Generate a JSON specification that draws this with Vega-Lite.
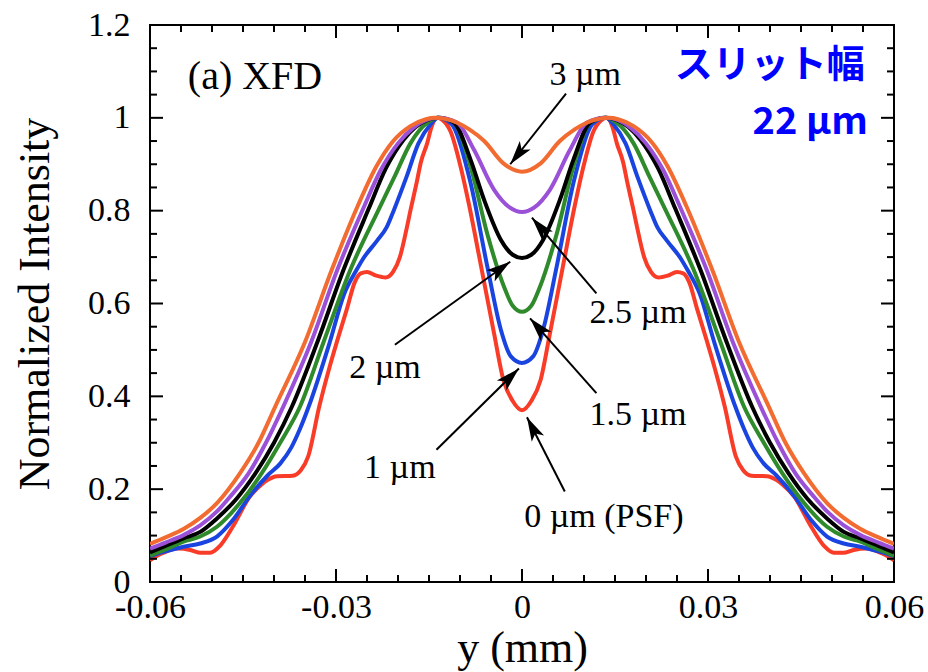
{
  "$schema": "https://vega.github.io/schema/vega-lite/v6.json",
  "width": 744,
  "height": 557,
  "autosize": {"type": "none"},
  "padding": {"left": 150, "top": 25, "right": 34, "bottom": 90},
  "background": "white",
  "config": {
    "view": {"stroke": "black", "strokeWidth": 2},
    "axis": {"grid": false, "domain": false, "ticks": false, "labelFont": "Liberation Serif", "titleFont": "Liberation Serif", "labelColor": "black", "titleColor": "black", "titleFontWeight": "normal", "labelFlush": false, "labelOverlap": false}
  },
  "datasets": {
    "curves": [
      {"s":"0","x":0,"v":0.37},{"s":"0","x":0.0015,"v":0.39},{"s":"0","x":0.003,"v":0.435},{"s":"0","x":0.0045,"v":0.535},{"s":"0","x":0.0066,"v":0.68},{"s":"0","x":0.0085,"v":0.81},{"s":"0","x":0.01,"v":0.9},{"s":"0","x":0.0115,"v":0.97},{"s":"0","x":0.0128,"v":0.995},{"s":"0","x":0.0137,"v":1},{"s":"0","x":0.0146,"v":0.98},{"s":"0","x":0.0153,"v":0.945},{"s":"0","x":0.0163,"v":0.905},{"s":"0","x":0.017,"v":0.86},{"s":"0","x":0.018,"v":0.8},{"s":"0","x":0.0186,"v":0.762},{"s":"0","x":0.0197,"v":0.7},{"s":"0","x":0.0208,"v":0.668},{"s":"0","x":0.022,"v":0.656},{"s":"0","x":0.0235,"v":0.66},{"s":"0","x":0.025,"v":0.668},{"s":"0","x":0.026,"v":0.665},{"s":"0","x":0.027,"v":0.645},{"s":"0","x":0.0282,"v":0.59},{"s":"0","x":0.0298,"v":0.52},{"s":"0","x":0.031,"v":0.465},{"s":"0","x":0.0327,"v":0.378},{"s":"0","x":0.0345,"v":0.27},{"s":"0","x":0.0357,"v":0.24},{"s":"0","x":0.037,"v":0.229},{"s":"0","x":0.0395,"v":0.228},{"s":"0","x":0.041,"v":0.22},{"s":"0","x":0.042,"v":0.21},{"s":"0","x":0.0439,"v":0.184},{"s":"0","x":0.0466,"v":0.12},{"s":"0","x":0.0487,"v":0.078},{"s":"0","x":0.0503,"v":0.063},{"s":"0","x":0.0518,"v":0.063},{"s":"0","x":0.0535,"v":0.069},{"s":"0","x":0.0555,"v":0.072},{"s":"0","x":0.058,"v":0.062},{"s":"0","x":0.06,"v":0.047},
      {"s":"0","x":-0.0015,"v":0.39},{"s":"0","x":-0.003,"v":0.435},{"s":"0","x":-0.0045,"v":0.535},{"s":"0","x":-0.0066,"v":0.68},{"s":"0","x":-0.0085,"v":0.81},{"s":"0","x":-0.01,"v":0.9},{"s":"0","x":-0.0115,"v":0.97},{"s":"0","x":-0.0128,"v":0.995},{"s":"0","x":-0.0137,"v":1},{"s":"0","x":-0.0146,"v":0.98},{"s":"0","x":-0.0153,"v":0.945},{"s":"0","x":-0.0163,"v":0.905},{"s":"0","x":-0.017,"v":0.86},{"s":"0","x":-0.018,"v":0.8},{"s":"0","x":-0.0186,"v":0.762},{"s":"0","x":-0.0197,"v":0.7},{"s":"0","x":-0.0208,"v":0.668},{"s":"0","x":-0.022,"v":0.656},{"s":"0","x":-0.0235,"v":0.66},{"s":"0","x":-0.025,"v":0.668},{"s":"0","x":-0.026,"v":0.665},{"s":"0","x":-0.027,"v":0.645},{"s":"0","x":-0.0282,"v":0.59},{"s":"0","x":-0.0298,"v":0.52},{"s":"0","x":-0.031,"v":0.465},{"s":"0","x":-0.0327,"v":0.378},{"s":"0","x":-0.0345,"v":0.27},{"s":"0","x":-0.0357,"v":0.24},{"s":"0","x":-0.037,"v":0.229},{"s":"0","x":-0.0395,"v":0.228},{"s":"0","x":-0.041,"v":0.22},{"s":"0","x":-0.042,"v":0.21},{"s":"0","x":-0.0439,"v":0.184},{"s":"0","x":-0.0466,"v":0.12},{"s":"0","x":-0.0487,"v":0.078},{"s":"0","x":-0.0503,"v":0.063},{"s":"0","x":-0.0518,"v":0.063},{"s":"0","x":-0.0535,"v":0.069},{"s":"0","x":-0.0555,"v":0.072},{"s":"0","x":-0.058,"v":0.062},{"s":"0","x":-0.06,"v":0.047},

      {"s":"1","x":0,"v":0.472},{"s":"1","x":0.0018,"v":0.486},{"s":"1","x":0.0034,"v":0.543},{"s":"1","x":0.0056,"v":0.68},{"s":"1","x":0.0083,"v":0.86},{"s":"1","x":0.011,"v":0.98},{"s":"1","x":0.0125,"v":0.997},{"s":"1","x":0.0135,"v":1},{"s":"1","x":0.0148,"v":0.985},{"s":"1","x":0.0167,"v":0.945},{"s":"1","x":0.0187,"v":0.87},{"s":"1","x":0.0207,"v":0.8},{"s":"1","x":0.0218,"v":0.765},{"s":"1","x":0.0234,"v":0.735},{"s":"1","x":0.0256,"v":0.697},{"s":"1","x":0.0267,"v":0.672},{"s":"1","x":0.0287,"v":0.62},{"s":"1","x":0.031,"v":0.517},{"s":"1","x":0.0344,"v":0.378},{"s":"1","x":0.0358,"v":0.33},{"s":"1","x":0.0372,"v":0.29},{"s":"1","x":0.039,"v":0.255},{"s":"1","x":0.041,"v":0.23},{"s":"1","x":0.0439,"v":0.185},{"s":"1","x":0.0466,"v":0.134},{"s":"1","x":0.0492,"v":0.098},{"s":"1","x":0.0519,"v":0.083},{"s":"1","x":0.0546,"v":0.076},{"s":"1","x":0.0575,"v":0.066},{"s":"1","x":0.06,"v":0.056},
      {"s":"1","x":-0.0018,"v":0.486},{"s":"1","x":-0.0034,"v":0.543},{"s":"1","x":-0.0056,"v":0.68},{"s":"1","x":-0.0083,"v":0.86},{"s":"1","x":-0.011,"v":0.98},{"s":"1","x":-0.0125,"v":0.997},{"s":"1","x":-0.0135,"v":1},{"s":"1","x":-0.0148,"v":0.985},{"s":"1","x":-0.0167,"v":0.945},{"s":"1","x":-0.0187,"v":0.87},{"s":"1","x":-0.0207,"v":0.8},{"s":"1","x":-0.0218,"v":0.765},{"s":"1","x":-0.0234,"v":0.735},{"s":"1","x":-0.0256,"v":0.697},{"s":"1","x":-0.0267,"v":0.672},{"s":"1","x":-0.0287,"v":0.62},{"s":"1","x":-0.031,"v":0.517},{"s":"1","x":-0.0344,"v":0.378},{"s":"1","x":-0.0358,"v":0.33},{"s":"1","x":-0.0372,"v":0.29},{"s":"1","x":-0.039,"v":0.255},{"s":"1","x":-0.041,"v":0.23},{"s":"1","x":-0.0439,"v":0.185},{"s":"1","x":-0.0466,"v":0.134},{"s":"1","x":-0.0492,"v":0.098},{"s":"1","x":-0.0519,"v":0.083},{"s":"1","x":-0.0546,"v":0.076},{"s":"1","x":-0.0575,"v":0.066},{"s":"1","x":-0.06,"v":0.056},

      {"s":"1.5","x":0,"v":0.582},{"s":"1.5","x":0.0015,"v":0.595},{"s":"1.5","x":0.0029,"v":0.636},{"s":"1.5","x":0.0056,"v":0.75},{"s":"1.5","x":0.0083,"v":0.895},{"s":"1.5","x":0.011,"v":0.99},{"s":"1.5","x":0.0135,"v":1},{"s":"1.5","x":0.0152,"v":0.99},{"s":"1.5","x":0.018,"v":0.945},{"s":"1.5","x":0.0205,"v":0.875},{"s":"1.5","x":0.0232,"v":0.8},{"s":"1.5","x":0.0277,"v":0.672},{"s":"1.5","x":0.032,"v":0.517},{"s":"1.5","x":0.0358,"v":0.378},{"s":"1.5","x":0.039,"v":0.3},{"s":"1.5","x":0.042,"v":0.234},{"s":"1.5","x":0.0455,"v":0.17},{"s":"1.5","x":0.0492,"v":0.119},{"s":"1.5","x":0.0519,"v":0.098},{"s":"1.5","x":0.0546,"v":0.087},{"s":"1.5","x":0.0575,"v":0.07},{"s":"1.5","x":0.06,"v":0.057},
      {"s":"1.5","x":-0.0015,"v":0.595},{"s":"1.5","x":-0.0029,"v":0.636},{"s":"1.5","x":-0.0056,"v":0.75},{"s":"1.5","x":-0.0083,"v":0.895},{"s":"1.5","x":-0.011,"v":0.99},{"s":"1.5","x":-0.0135,"v":1},{"s":"1.5","x":-0.0152,"v":0.99},{"s":"1.5","x":-0.018,"v":0.945},{"s":"1.5","x":-0.0205,"v":0.875},{"s":"1.5","x":-0.0232,"v":0.8},{"s":"1.5","x":-0.0277,"v":0.672},{"s":"1.5","x":-0.032,"v":0.517},{"s":"1.5","x":-0.0358,"v":0.378},{"s":"1.5","x":-0.039,"v":0.3},{"s":"1.5","x":-0.042,"v":0.234},{"s":"1.5","x":-0.0455,"v":0.17},{"s":"1.5","x":-0.0492,"v":0.119},{"s":"1.5","x":-0.0519,"v":0.098},{"s":"1.5","x":-0.0546,"v":0.087},{"s":"1.5","x":-0.0575,"v":0.07},{"s":"1.5","x":-0.06,"v":0.057},

      {"s":"2","x":0,"v":0.698},{"s":"2","x":0.0015,"v":0.705},{"s":"2","x":0.0034,"v":0.737},{"s":"2","x":0.0061,"v":0.823},{"s":"2","x":0.0083,"v":0.91},{"s":"2","x":0.011,"v":0.99},{"s":"2","x":0.0135,"v":1},{"s":"2","x":0.0155,"v":0.994},{"s":"2","x":0.0172,"v":0.98},{"s":"2","x":0.0191,"v":0.953},{"s":"2","x":0.022,"v":0.89},{"s":"2","x":0.0247,"v":0.805},{"s":"2","x":0.0288,"v":0.672},{"s":"2","x":0.033,"v":0.517},{"s":"2","x":0.0371,"v":0.378},{"s":"2","x":0.04,"v":0.3},{"s":"2","x":0.043,"v":0.234},{"s":"2","x":0.046,"v":0.18},{"s":"2","x":0.0492,"v":0.137},{"s":"2","x":0.0519,"v":0.108},{"s":"2","x":0.0546,"v":0.094},{"s":"2","x":0.0575,"v":0.078},{"s":"2","x":0.06,"v":0.064},
      {"s":"2","x":-0.0015,"v":0.705},{"s":"2","x":-0.0034,"v":0.737},{"s":"2","x":-0.0061,"v":0.823},{"s":"2","x":-0.0083,"v":0.91},{"s":"2","x":-0.011,"v":0.99},{"s":"2","x":-0.0135,"v":1},{"s":"2","x":-0.0155,"v":0.994},{"s":"2","x":-0.0172,"v":0.98},{"s":"2","x":-0.0191,"v":0.953},{"s":"2","x":-0.022,"v":0.89},{"s":"2","x":-0.0247,"v":0.805},{"s":"2","x":-0.0288,"v":0.672},{"s":"2","x":-0.033,"v":0.517},{"s":"2","x":-0.0371,"v":0.378},{"s":"2","x":-0.04,"v":0.3},{"s":"2","x":-0.043,"v":0.234},{"s":"2","x":-0.046,"v":0.18},{"s":"2","x":-0.0492,"v":0.137},{"s":"2","x":-0.0519,"v":0.108},{"s":"2","x":-0.0546,"v":0.094},{"s":"2","x":-0.0575,"v":0.078},{"s":"2","x":-0.06,"v":0.064},

      {"s":"2.5","x":0,"v":0.797},{"s":"2.5","x":0.002,"v":0.807},{"s":"2.5","x":0.0045,"v":0.845},{"s":"2.5","x":0.0077,"v":0.93},{"s":"2.5","x":0.0105,"v":0.99},{"s":"2.5","x":0.0135,"v":1},{"s":"2.5","x":0.0155,"v":0.995},{"s":"2.5","x":0.0175,"v":0.979},{"s":"2.5","x":0.02,"v":0.945},{"s":"2.5","x":0.0228,"v":0.887},{"s":"2.5","x":0.0255,"v":0.808},{"s":"2.5","x":0.0298,"v":0.672},{"s":"2.5","x":0.034,"v":0.517},{"s":"2.5","x":0.0385,"v":0.378},{"s":"2.5","x":0.0413,"v":0.3},{"s":"2.5","x":0.0441,"v":0.234},{"s":"2.5","x":0.047,"v":0.185},{"s":"2.5","x":0.0492,"v":0.152},{"s":"2.5","x":0.0519,"v":0.122},{"s":"2.5","x":0.0546,"v":0.101},{"s":"2.5","x":0.0575,"v":0.085},{"s":"2.5","x":0.06,"v":0.072},
      {"s":"2.5","x":-0.002,"v":0.807},{"s":"2.5","x":-0.0045,"v":0.845},{"s":"2.5","x":-0.0077,"v":0.93},{"s":"2.5","x":-0.0105,"v":0.99},{"s":"2.5","x":-0.0135,"v":1},{"s":"2.5","x":-0.0155,"v":0.995},{"s":"2.5","x":-0.0175,"v":0.979},{"s":"2.5","x":-0.02,"v":0.945},{"s":"2.5","x":-0.0228,"v":0.887},{"s":"2.5","x":-0.0255,"v":0.808},{"s":"2.5","x":-0.0298,"v":0.672},{"s":"2.5","x":-0.034,"v":0.517},{"s":"2.5","x":-0.0385,"v":0.378},{"s":"2.5","x":-0.0413,"v":0.3},{"s":"2.5","x":-0.0441,"v":0.234},{"s":"2.5","x":-0.047,"v":0.185},{"s":"2.5","x":-0.0492,"v":0.152},{"s":"2.5","x":-0.0519,"v":0.122},{"s":"2.5","x":-0.0546,"v":0.101},{"s":"2.5","x":-0.0575,"v":0.085},{"s":"2.5","x":-0.06,"v":0.072},

      {"s":"3","x":0,"v":0.884},{"s":"3","x":0.003,"v":0.902},{"s":"3","x":0.0061,"v":0.95},{"s":"3","x":0.0085,"v":0.975},{"s":"3","x":0.0105,"v":0.99},{"s":"3","x":0.0125,"v":0.998},{"s":"3","x":0.014,"v":1},{"s":"3","x":0.0155,"v":0.997},{"s":"3","x":0.018,"v":0.982},{"s":"3","x":0.0209,"v":0.948},{"s":"3","x":0.0235,"v":0.895},{"s":"3","x":0.0265,"v":0.81},{"s":"3","x":0.0307,"v":0.672},{"s":"3","x":0.035,"v":0.517},{"s":"3","x":0.0398,"v":0.378},{"s":"3","x":0.0425,"v":0.3},{"s":"3","x":0.0455,"v":0.234},{"s":"3","x":0.0492,"v":0.17},{"s":"3","x":0.0519,"v":0.138},{"s":"3","x":0.0546,"v":0.114},{"s":"3","x":0.0575,"v":0.096},{"s":"3","x":0.06,"v":0.082},
      {"s":"3","x":-0.003,"v":0.902},{"s":"3","x":-0.0061,"v":0.95},{"s":"3","x":-0.0085,"v":0.975},{"s":"3","x":-0.0105,"v":0.99},{"s":"3","x":-0.0125,"v":0.998},{"s":"3","x":-0.014,"v":1},{"s":"3","x":-0.0155,"v":0.997},{"s":"3","x":-0.018,"v":0.982},{"s":"3","x":-0.0209,"v":0.948},{"s":"3","x":-0.0235,"v":0.895},{"s":"3","x":-0.0265,"v":0.81},{"s":"3","x":-0.0307,"v":0.672},{"s":"3","x":-0.035,"v":0.517},{"s":"3","x":-0.0398,"v":0.378},{"s":"3","x":-0.0425,"v":0.3},{"s":"3","x":-0.0455,"v":0.234},{"s":"3","x":-0.0492,"v":0.17},{"s":"3","x":-0.0519,"v":0.138},{"s":"3","x":-0.0546,"v":0.114},{"s":"3","x":-0.0575,"v":0.096},{"s":"3","x":-0.06,"v":0.082}
    ],
    "frameticks": [
      {"kx":-0.06,"ky":0,"side":"b","k":"M"},{"kx":-0.055,"ky":0,"side":"b","k":"m"},{"kx":-0.05,"ky":0,"side":"b","k":"m"},{"kx":-0.045,"ky":0,"side":"b","k":"m"},{"kx":-0.04,"ky":0,"side":"b","k":"m"},{"kx":-0.035,"ky":0,"side":"b","k":"m"},{"kx":-0.03,"ky":0,"side":"b","k":"M"},{"kx":-0.025,"ky":0,"side":"b","k":"m"},{"kx":-0.02,"ky":0,"side":"b","k":"m"},{"kx":-0.015,"ky":0,"side":"b","k":"m"},{"kx":-0.01,"ky":0,"side":"b","k":"m"},{"kx":-0.005,"ky":0,"side":"b","k":"m"},{"kx":0,"ky":0,"side":"b","k":"M"},{"kx":0.005,"ky":0,"side":"b","k":"m"},{"kx":0.01,"ky":0,"side":"b","k":"m"},{"kx":0.015,"ky":0,"side":"b","k":"m"},{"kx":0.02,"ky":0,"side":"b","k":"m"},{"kx":0.025,"ky":0,"side":"b","k":"m"},{"kx":0.03,"ky":0,"side":"b","k":"M"},{"kx":0.035,"ky":0,"side":"b","k":"m"},{"kx":0.04,"ky":0,"side":"b","k":"m"},{"kx":0.045,"ky":0,"side":"b","k":"m"},{"kx":0.05,"ky":0,"side":"b","k":"m"},{"kx":0.055,"ky":0,"side":"b","k":"m"},{"kx":0.06,"ky":0,"side":"b","k":"M"},
      {"kx":-0.06,"ky":1.2,"side":"t","k":"M"},{"kx":-0.055,"ky":1.2,"side":"t","k":"m"},{"kx":-0.05,"ky":1.2,"side":"t","k":"m"},{"kx":-0.045,"ky":1.2,"side":"t","k":"m"},{"kx":-0.04,"ky":1.2,"side":"t","k":"m"},{"kx":-0.035,"ky":1.2,"side":"t","k":"m"},{"kx":-0.03,"ky":1.2,"side":"t","k":"M"},{"kx":-0.025,"ky":1.2,"side":"t","k":"m"},{"kx":-0.02,"ky":1.2,"side":"t","k":"m"},{"kx":-0.015,"ky":1.2,"side":"t","k":"m"},{"kx":-0.01,"ky":1.2,"side":"t","k":"m"},{"kx":-0.005,"ky":1.2,"side":"t","k":"m"},{"kx":0,"ky":1.2,"side":"t","k":"M"},{"kx":0.005,"ky":1.2,"side":"t","k":"m"},{"kx":0.01,"ky":1.2,"side":"t","k":"m"},{"kx":0.015,"ky":1.2,"side":"t","k":"m"},{"kx":0.02,"ky":1.2,"side":"t","k":"m"},{"kx":0.025,"ky":1.2,"side":"t","k":"m"},{"kx":0.03,"ky":1.2,"side":"t","k":"M"},{"kx":0.035,"ky":1.2,"side":"t","k":"m"},{"kx":0.04,"ky":1.2,"side":"t","k":"m"},{"kx":0.045,"ky":1.2,"side":"t","k":"m"},{"kx":0.05,"ky":1.2,"side":"t","k":"m"},{"kx":0.055,"ky":1.2,"side":"t","k":"m"},{"kx":0.06,"ky":1.2,"side":"t","k":"M"},
      {"kx":-0.06,"ky":0,"side":"l","k":"M"},{"kx":-0.06,"ky":0.05,"side":"l","k":"m"},{"kx":-0.06,"ky":0.1,"side":"l","k":"m"},{"kx":-0.06,"ky":0.15,"side":"l","k":"m"},{"kx":-0.06,"ky":0.2,"side":"l","k":"M"},{"kx":-0.06,"ky":0.25,"side":"l","k":"m"},{"kx":-0.06,"ky":0.3,"side":"l","k":"m"},{"kx":-0.06,"ky":0.35,"side":"l","k":"m"},{"kx":-0.06,"ky":0.4,"side":"l","k":"M"},{"kx":-0.06,"ky":0.45,"side":"l","k":"m"},{"kx":-0.06,"ky":0.5,"side":"l","k":"m"},{"kx":-0.06,"ky":0.55,"side":"l","k":"m"},{"kx":-0.06,"ky":0.6,"side":"l","k":"M"},{"kx":-0.06,"ky":0.65,"side":"l","k":"m"},{"kx":-0.06,"ky":0.7,"side":"l","k":"m"},{"kx":-0.06,"ky":0.75,"side":"l","k":"m"},{"kx":-0.06,"ky":0.8,"side":"l","k":"M"},{"kx":-0.06,"ky":0.85,"side":"l","k":"m"},{"kx":-0.06,"ky":0.9,"side":"l","k":"m"},{"kx":-0.06,"ky":0.95,"side":"l","k":"m"},{"kx":-0.06,"ky":1,"side":"l","k":"M"},{"kx":-0.06,"ky":1.05,"side":"l","k":"m"},{"kx":-0.06,"ky":1.1,"side":"l","k":"m"},{"kx":-0.06,"ky":1.15,"side":"l","k":"m"},{"kx":-0.06,"ky":1.2,"side":"l","k":"M"},
      {"kx":0.06,"ky":0,"side":"r","k":"M"},{"kx":0.06,"ky":0.05,"side":"r","k":"m"},{"kx":0.06,"ky":0.1,"side":"r","k":"m"},{"kx":0.06,"ky":0.15,"side":"r","k":"m"},{"kx":0.06,"ky":0.2,"side":"r","k":"M"},{"kx":0.06,"ky":0.25,"side":"r","k":"m"},{"kx":0.06,"ky":0.3,"side":"r","k":"m"},{"kx":0.06,"ky":0.35,"side":"r","k":"m"},{"kx":0.06,"ky":0.4,"side":"r","k":"M"},{"kx":0.06,"ky":0.45,"side":"r","k":"m"},{"kx":0.06,"ky":0.5,"side":"r","k":"m"},{"kx":0.06,"ky":0.55,"side":"r","k":"m"},{"kx":0.06,"ky":0.6,"side":"r","k":"M"},{"kx":0.06,"ky":0.65,"side":"r","k":"m"},{"kx":0.06,"ky":0.7,"side":"r","k":"m"},{"kx":0.06,"ky":0.75,"side":"r","k":"m"},{"kx":0.06,"ky":0.8,"side":"r","k":"M"},{"kx":0.06,"ky":0.85,"side":"r","k":"m"},{"kx":0.06,"ky":0.9,"side":"r","k":"m"},{"kx":0.06,"ky":0.95,"side":"r","k":"m"},{"kx":0.06,"ky":1,"side":"r","k":"M"},{"kx":0.06,"ky":1.05,"side":"r","k":"m"},{"kx":0.06,"ky":1.1,"side":"r","k":"m"},{"kx":0.06,"ky":1.15,"side":"r","k":"m"},{"kx":0.06,"ky":1.2,"side":"r","k":"M"}
    ],
    "arrows": [
      {"tx":0.0071,"tv":1.052,"hx":-0.0019,"hv":0.9},
      {"tx":0.012,"tv":0.622,"hx":0.0016,"hv":0.785},
      {"tx":-0.0205,"tv":0.511,"hx":-0.0019,"hv":0.69},
      {"tx":0.012,"tv":0.407,"hx":0.0013,"hv":0.568},
      {"tx":-0.0138,"tv":0.285,"hx":-0.0005,"hv":0.46},
      {"tx":0.0069,"tv":0.195,"hx":0.0008,"hv":0.355}
    ],
    "labels": [
      {"lx":0.0102,"lv":1.093,"t":"3 µm"},
      {"lx":0.0187,"lv":0.58,"t":"2.5 µm"},
      {"lx":-0.0221,"lv":0.461,"t":"2 µm"},
      {"lx":0.0187,"lv":0.36,"t":"1.5 µm"},
      {"lx":-0.0197,"lv":0.246,"t":"1 µm"},
      {"lx":0.0132,"lv":0.14,"t":"0 µm (PSF)"}
    ],
    "panel": [{"px":-0.0539,"pv":1.088,"t":"(a) XFD"}],
    "slit": [
      {"jx":0.0553,"jv":1.112,"t":"スリット幅"},
      {"jx":0.0558,"jv":0.989,"t":"22 μm"}
    ]
  },
  "layer": [
    {
      "data": {"name": "curves"},
      "mark": {"type": "line", "interpolate": "monotone", "strokeWidth": 4, "clip": true},
      "encoding": {
        "x": {"field": "x", "type": "quantitative", "scale": {"domain": [-0.06, 0.06], "nice": false, "zero": false},
              "axis": {"orient": "bottom", "values": [-0.06, -0.03, 0, 0.03, 0.06], "labelExpr": "datum.value == 0 ? '0' : (datum.value < 0 ? '-' : '') + format(abs(datum.value), '.2f')", "labelFontSize": 34, "labelPadding": 8, "title": "y (mm)", "titleFontSize": 44, "titlePadding": 2}},
        "y": {"field": "v", "type": "quantitative", "scale": {"domain": [0, 1.2], "nice": false},
              "axis": {"orient": "left", "values": [0, 0.2, 0.4, 0.6, 0.8, 1, 1.2], "format": "~g", "labelFontSize": 34, "labelPadding": 20, "title": "Normalized Intensity", "titleFontSize": 44, "titlePadding": 30}},
        "color": {"field": "s", "type": "nominal", "scale": {"domain": ["0", "1", "1.5", "2", "2.5", "3"], "range": ["#f83c28", "#1a44e0", "#2f8a2b", "#000000", "#9b50d8", "#f26b30"]}, "legend": null}
      }
    },
    {
      "data": {"name": "frameticks"},
      "transform": [
        {"calculate": "datum.k == 'M' ? 13 : 7", "as": "len"},
        {"calculate": "datum.side == 'l' ? datum.kx + datum.len / 6200 : (datum.side == 'r' ? datum.kx - datum.len / 6200 : datum.kx)", "as": "kx2"},
        {"calculate": "datum.side == 'b' ? datum.ky + datum.len / 464.2 : (datum.side == 't' ? datum.ky - datum.len / 464.2 : datum.ky)", "as": "ky2"}
      ],
      "mark": {"type": "rule", "color": "black", "strokeWidth": 2},
      "encoding": {
        "x": {"field": "kx", "type": "quantitative"},
        "y": {"field": "ky", "type": "quantitative"},
        "x2": {"field": "kx2"},
        "y2": {"field": "ky2"}
      }
    },
    {
      "data": {"name": "arrows"},
      "mark": {"type": "rule", "color": "black", "strokeWidth": 2},
      "encoding": {
        "x": {"field": "tx", "type": "quantitative"},
        "y": {"field": "tv", "type": "quantitative"},
        "x2": {"field": "hx"},
        "y2": {"field": "hv"}
      }
    },
    {
      "data": {"name": "arrows"},
      "transform": [{"calculate": "atan2((datum.hx - datum.tx) * 6200, (datum.hv - datum.tv) * 464.2) * 180 / PI", "as": "ang"}],
      "mark": {"type": "point", "shape": "M0,0L0.6,2.1L0,1.6L-0.6,2.1Z", "filled": true, "color": "black", "opacity": 1, "size": 529},
      "encoding": {
        "x": {"field": "hx", "type": "quantitative"},
        "y": {"field": "hv", "type": "quantitative"},
        "angle": {"field": "ang", "type": "quantitative", "scale": null}
      }
    },
    {
      "data": {"name": "labels"},
      "mark": {"type": "text", "font": "Liberation Serif", "fontSize": 34, "align": "center", "baseline": "middle", "color": "black"},
      "encoding": {
        "x": {"field": "lx", "type": "quantitative"},
        "y": {"field": "lv", "type": "quantitative"},
        "text": {"field": "t"}
      }
    },
    {
      "data": {"name": "panel"},
      "mark": {"type": "text", "font": "Liberation Serif", "fontSize": 40, "align": "left", "baseline": "middle", "color": "black"},
      "encoding": {
        "x": {"field": "px", "type": "quantitative"},
        "y": {"field": "pv", "type": "quantitative"},
        "text": {"field": "t"}
      }
    },
    {
      "data": {"name": "slit"},
      "mark": {"type": "text", "font": "Noto Sans CJK JP", "fontWeight": "bold", "fontSize": 38, "align": "right", "baseline": "middle", "color": "#0000ff"},
      "encoding": {
        "x": {"field": "jx", "type": "quantitative"},
        "y": {"field": "jv", "type": "quantitative"},
        "text": {"field": "t"}
      }
    }
  ]
}
